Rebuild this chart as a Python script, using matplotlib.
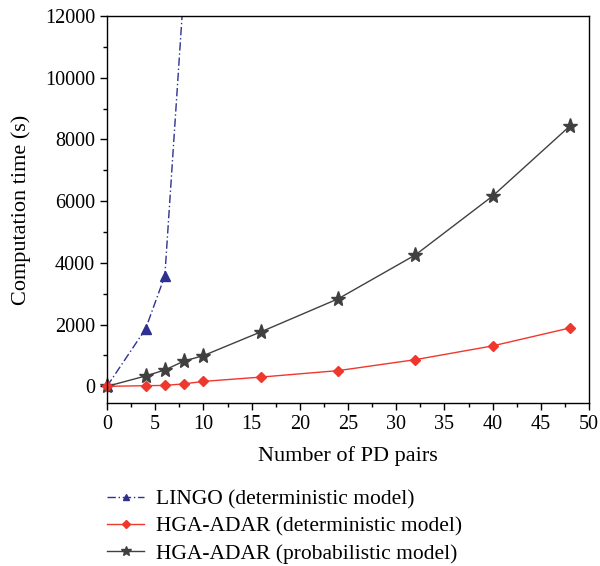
import numpy as np
import matplotlib.pyplot as plt
from matplotlib.ticker import MultipleLocator

plt.rcParams['font.family'] = ['Liberation Serif', 'DejaVu Serif']

# values
x_lingo = [0, 4, 6, 8]
y_lingo = [0, 1860, 3580, 13000]

x_hga = [0, 4, 6, 8, 10, 16, 24, 32, 40, 48]
y_hga_det = [0, 20, 30, 80, 160, 300, 510, 865, 1310, 1890]
y_hga_prob = [0, 335, 530, 820, 995, 1770, 2840, 4260, 6165, 8430]

labels = ["LINGO (deterministic model)",
          "HGA-ADAR (deterministic model)",
          "HGA-ADAR (probabilistic model)"]

fig = plt.figure(figsize=(6.0, 5.66), dpi=100)
ax = fig.add_axes([107/600, 1-403/566, (589-107)/600, (403-16)/566])

l1, = ax.plot(x_lingo, y_lingo, color="#2e3192", ls=(0, (6, 2, 1, 2)), lw=1,
              marker="^", ms=7, markevery=[0, 1, 2])
l3, = ax.plot(x_hga, y_hga_prob, color="#404040", lw=1, marker="*", ms=11,
              clip_on=False)
l2, = ax.plot(x_hga, y_hga_det, color="#f0372d", lw=1, marker="D", ms=5.5,
              clip_on=False)

ax.set_xlim(0, 50)
ax.set_ylim(-540, 12000)
ax.set_yticks(np.arange(0, 12001, 2000))
ax.xaxis.set_major_locator(MultipleLocator(5))
ax.xaxis.set_minor_locator(MultipleLocator(2.5))
ax.yaxis.set_minor_locator(MultipleLocator(1000))
ax.tick_params(which="both", direction="out", labelsize=14.5, width=1)
ax.tick_params(which="major", length=5)
ax.tick_params(which="minor", length=3)
for s in ax.spines.values():
    s.set_linewidth(1)

ax.set_xlabel("Number of PD pairs", fontsize=16, labelpad=9)
ax.set_ylabel("Computation time (s)", fontsize=16, labelpad=10)

fig.legend([l1, l2, l3], labels, loc="upper left",
           bbox_to_anchor=(88/600, 1-470/566), frameon=False, fontsize=15.5,
           handlelength=1.7, labelspacing=0.33, handletextpad=0.55,
           markerscale=0.7)

fig.savefig("out.png", dpi=100)
